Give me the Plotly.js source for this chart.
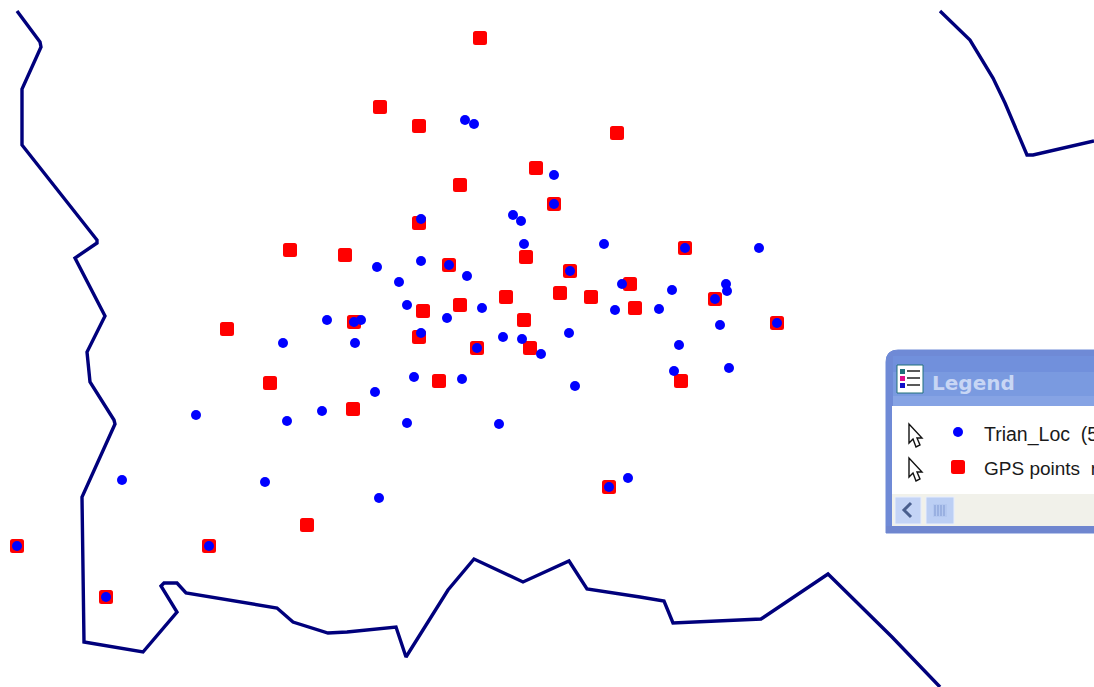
<!DOCTYPE html>
<html><head><meta charset="utf-8">
<script src="https://cdn.plot.ly/plotly-3.0.0.min.js"></script>
<style>html,body{margin:0;padding:0;background:#fff;overflow:hidden}
.scatterlayer .point{stroke-linejoin:round !important}</style>
</head><body><div id="chart" style="width:1094px;height:687px"></div>
<script>
const gpsX=[480,380,419,617,536,460,554,419,290,345,526,685,449,570,630,560,591,506,460,423,635,715,354,524,777,227,419,477,530,270,439,681,353,609,307,17,209,106];
const gpsY=[38,107,126,133,168,185,204,223,250,255,257,248,265,271,284,293,297,297,305,311,308,299,322,320,323,329,337,348,348,383,381,381,409,487,525,546,546,597];
const trianX=[465,474,554,554,421,513,521,524,604,759,685,449,421,377,570,467,399,622,672,726,727,715,407,482,447,615,659,327,361,354,777,720,421,503,522,569,283,355,477,541,679,729,674,414,462,575,375,322,196,287,407,499,628,609,122,265,379,17,209,106];
const trianY=[120,124,175,204,219,215,221,244,244,248,248,265,261,267,271,276,282,284,290,284,291,299,305,308,318,310,309,320,320,322,323,325,333,337,339,333,343,343,348,354,345,368,371,377,379,386,392,411,415,421,423,424,478,487,480,482,498,546,546,597];
const borderLeftX=[17,40,41,22,22,97,97,75,105,87,90,114,115,82,84,143,177,161,164,177,186,277,293,318,328,347,396,406,448,474,523,569,587,640,664,673,761,828,892,940];
const borderLeftY=[11,42,47,89,145,240,243,258,316,352,382,420,424,497,642,652,612,586,583,583,593,608,622,630,633,632,627,657,590,559,582,561,589,597,601,623,619,574,637,687];
const borderRightX=[940,970,993,1005,1027,1033,1094];
const borderRightY=[11,40,78,103,155,155,141];
const legendLabels=["Trian_Loc  (5","GPS points  r"];
const legendTitle="Legend";
const legendSymbolX=[958,958];
const legendSymbolY=[432,467];

const navy="#00007c";
const rect=(x0,y0,x1,y1,fill,line)=>({type:"rect",xref:"x",yref:"y",x0,y0,x1,y1,fillcolor:fill,line:{width:line?1:0,color:line||fill},layer:"below"});
const path=(d,fill,color,w)=>({type:"path",xref:"x",yref:"y",path:d,fillcolor:fill,line:{color:color||fill,width:w||1},layer:"below"});
const cursor=(x,y)=>path(`M${x},${y} L${x},${y+19} L${x+4},${y+15} L${x+7},${y+23} L${x+11},${y+21} L${x+8},${y+14} L${x+13},${y+14} Z`,"#fff","#111",1.4);

const shapes=[
 path("M886,533 L886,362 Q886,350 898,350 L1094,350 L1094,533 Z","#6f8ad6","#6f8ad6",1),
 rect(893,356,1094,372,"#7190dc"),rect(893,372,1094,396,"#7a9ae0"),rect(893,396,1094,406,"#86a3e4"),
 rect(892,406,1094,494,"#ffffff"),
 rect(892,494,1094,526,"#f1f1ea"),
 rect(886,526,1094,533,"#6f86cf"),
 rect(895,497,921,524,"#c4d4f6","#e8eefc"),
 path("M911,503 L904,510 L911,517","rgba(0,0,0,0)","#4a5f8e",3),
 rect(926,497,954,524,"#bccff4","#e8eefc"),
 rect(933,504,947,517,"#b4c8f0"),
 ...[935,938,941,944].map(x=>({type:"line",xref:"x",yref:"y",x0:x,x1:x,y0:505,y1:516,line:{color:"#8099d2",width:1},layer:"below"})),
 rect(897,365,923,393,"#ffffff","#20707a"),
 rect(900,369,905,374,"#20707a"),rect(900,376,905,381,"#e0108a"),rect(900,383,905,388,"#1010c8"),
 ...[371,378,385].map(y=>({type:"line",xref:"x",yref:"y",x0:907,x1:920,y0:y,y1:y,line:{color:"#222",width:1.5},layer:"below"})),
 cursor(909,424),cursor(909,458)
];

const redMarker={symbol:"square",size:9,color:"#ff0000",line:{color:"#ff0000",width:5}};
const blueMarker={symbol:"circle",size:10,color:"#0000ff",line:{width:0}};
const traces=[
 {x:borderLeftX,y:borderLeftY,mode:"lines",type:"scatter",line:{color:navy,width:3.4},hoverinfo:"skip"},
 {x:borderRightX,y:borderRightY,mode:"lines",type:"scatter",line:{color:navy,width:3.4},hoverinfo:"skip"},
 {x:gpsX,y:gpsY,name:"GPS points",mode:"markers",type:"scatter",marker:redMarker},
 {x:trianX,y:trianY,name:"Trian_Loc",mode:"markers",type:"scatter",marker:blueMarker},
 {x:[legendSymbolX[1]],y:[legendSymbolY[1]],mode:"markers",type:"scatter",marker:redMarker,hoverinfo:"skip"},
 {x:[legendSymbolX[0]],y:[legendSymbolY[0]],mode:"markers",type:"scatter",marker:blueMarker,hoverinfo:"skip"}
];
const ann=(text,x,y,font)=>({text,x,y,xref:"x",yref:"y",xanchor:"left",yanchor:"middle",showarrow:false,font,align:"left"});
const layout={
 width:1094,height:687,margin:{l:0,r:0,t:0,b:0},showlegend:false,
 paper_bgcolor:"#fff",plot_bgcolor:"#fff",
 xaxis:{range:[0,1094],visible:false,fixedrange:true},
 yaxis:{range:[687,0],visible:false,fixedrange:true},
 shapes,
 annotations:[
  ann(legendTitle,930,383,{family:"DejaVu Sans",size:20,color:"#c8d6f4",weight:700}),
  ann(legendLabels[0],982,434,{family:"Liberation Sans",size:19.5,color:"#1a1a1a"}),
  ann(legendLabels[1],982,468,{family:"Liberation Sans",size:19,color:"#1a1a1a"})
 ]
};
Plotly.newPlot("chart",traces,layout,{displayModeBar:false,staticPlot:true});
</script></body></html>
